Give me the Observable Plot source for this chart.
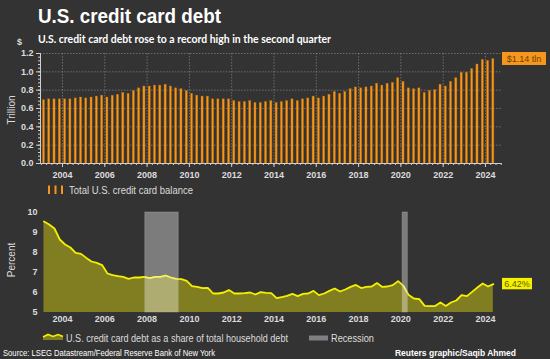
<!DOCTYPE html>
<html><head><meta charset="utf-8">
<script src="https://cdn.jsdelivr.net/npm/d3@7"></script>
<script src="https://cdn.jsdelivr.net/npm/@observablehq/plot@0.6"></script>
<style>
html,body{margin:0;padding:0;background:#333333;}
#wrap{position:relative;width:550px;height:359px;overflow:hidden;background:#333333;}
#wrap > svg{position:absolute;left:0;}
</style></head><body><div id="wrap"></div>
<script>
// ---------- DATA ----------
const firstQuarter = "2003-01-01";
const lastQuarter = "2024-04-01";
// Total U.S. credit card balance, trillions of dollars (quarterly, 2003Q1 .. 2024Q2)
const balance = [
  0.69, 0.70, 0.70, 0.70,
  0.70, 0.70, 0.71, 0.72,
  0.71, 0.72, 0.73, 0.74,
  0.72, 0.74, 0.75, 0.77,
  0.76, 0.79, 0.82, 0.84,
  0.84, 0.85, 0.85, 0.86,
  0.84, 0.82, 0.81, 0.79,
  0.76, 0.74, 0.73, 0.73,
  0.70, 0.70, 0.70, 0.70,
  0.68, 0.67, 0.67, 0.68,
  0.66, 0.66, 0.67, 0.68,
  0.66, 0.67, 0.68, 0.70,
  0.68, 0.70, 0.71, 0.73,
  0.71, 0.73, 0.75, 0.78,
  0.76, 0.78, 0.81, 0.83,
  0.82, 0.83, 0.84, 0.87,
  0.85, 0.87, 0.88, 0.93,
  0.89, 0.82, 0.81, 0.82,
  0.77, 0.79, 0.80, 0.86,
  0.84, 0.89, 0.93, 0.99,
  0.99, 1.03, 1.08, 1.13,
  1.12, 1.14
];
// Credit card debt as a share of total household debt, percent
const share = [
  9.55, 9.40, 9.20, 8.65,
  8.40, 8.25, 7.98, 7.93,
  7.73, 7.55, 7.48, 7.37,
  6.95, 6.87, 6.82, 6.78,
  6.68, 6.75, 6.75, 6.78,
  6.72, 6.78, 6.78, 6.85,
  6.75, 6.68, 6.67, 6.58,
  6.32, 6.28, 6.22, 6.23,
  5.95, 5.95, 6.00, 6.12,
  5.95, 5.95, 5.97, 6.00,
  5.90, 6.02, 5.98, 5.97,
  5.72, 5.77, 5.83, 5.93,
  5.82, 5.93, 5.95, 6.08,
  5.87, 5.95, 6.08, 6.20,
  6.05, 6.15, 6.28, 6.38,
  6.22, 6.28, 6.30, 6.47,
  6.28, 6.30, 6.37, 6.57,
  6.33, 5.87, 5.70, 5.67,
  5.33, 5.32, 5.32, 5.50,
  5.33, 5.50, 5.60, 5.87,
  5.82, 6.03, 6.25, 6.45,
  6.30, 6.42
];
const recessionStart = ["2007-12-01", "2020-02-01"];
const recessionEnd = ["2009-06-30", "2020-04-30"];
const xTickYears = [2004, 2006, 2008, 2010, 2012, 2014, 2016, 2018, 2020, 2022, 2024];
const topYTicks = [0, 0.2, 0.4, 0.6, 0.8, 1.0, 1.2];
const bottomYTicks = [5, 6, 7, 8, 9, 10];
const balanceLabel = "$1.14 tln";
const shareLabel = "6.42%";
const titleText = "U.S. credit card debt";
const subtitleText = "U.S. credit card debt rose to a record high in the second quarter";
const legendBars = "Total U.S. credit card balance";
const legendLine = "U.S. credit card debt as a share of total household debt";
const legendRec = "Recession";
const sourceText = "Source: LSEG Datastream/Federal Reserve Bank of New York";
const creditText = "Reuters graphic/Saqib Ahmed";

// ---------- BUILD ----------
const quarters = d3.utcMonth.every(3).range(new Date(firstQuarter), d3.utcDay.offset(new Date(lastQuarter), 1));
const rows = quarters.map((q, i) => ({q, mid: d3.utcDay.offset(q, 45), balance: balance[i], share: share[i]}));
const recs = recessionStart.map((s, i) => ({start: new Date(s), end: new Date(recessionEnd[i])}));
const yearDates = xTickYears.map(y => new Date(Date.UTC(y, 0, 1)));
const xDomain = [new Date(Date.UTC(2002, 11, 17)), new Date(Date.UTC(2024, 9, 4))];
const minorX = d3.utcMonth.every(3).range(xDomain[0], xDomain[1]);
const minorY = d3.range(0, 1.2001, 0.04);

const AXIS = "#cfcfcf";
const FONT = "'Liberation Sans', Arial, sans-serif";
const wrap = document.getElementById("wrap");

const TOP_Y = 40;
const topPlot = Plot.plot({
  width: 550, height: 145,
  marginTop: 13, marginBottom: 22, marginLeft: 40, marginRight: 49,
  style: {background: "transparent", color: "#dcdcdc", fontFamily: FONT, fontSize: "9px", fontWeight: "bold"},
  x: {type: "utc", domain: xDomain, label: null},
  y: {domain: [0, 1.2], label: null},
  marks: [
    Plot.gridX(yearDates, {stroke: "#9a9a9a", strokeOpacity: 0.55, strokeDasharray: "1.5,1.5"}),
    Plot.gridY(topYTicks, {stroke: "#9a9a9a", strokeOpacity: 0.55, strokeDasharray: "1.5,1.5"}),
    Plot.rectY(rows, {x: "q", y: "balance", interval: d3.utcMonth.every(3), fill: "#f7961c", stroke: "#b86a00", strokeWidth: 0.4, insetLeft: 1.6, insetRight: 1.6}),
    Plot.ruleY([0], {stroke: AXIS}),
    Plot.ruleX([xDomain[0]], {stroke: AXIS}),
    Plot.axisX(minorX, {tickSize: 2, stroke: AXIS, tickFormat: () => "", label: null}),
    Plot.axisX(yearDates, {tickSize: 4, tickPadding: 4, stroke: AXIS, tickFormat: "%Y", label: null}),
    Plot.axisY(minorY, {tickSize: 2, stroke: AXIS, tickFormat: () => "", label: null}),
    Plot.axisY(topYTicks, {tickSize: 4, tickPadding: 3, stroke: AXIS, tickFormat: ".1f", label: null})
  ]
});
topPlot.style.top = TOP_Y + "px";
wrap.appendChild(topPlot);

const BOT_Y = 195;
const botPlot = Plot.plot({
  width: 550, height: 130,
  marginTop: 17, marginBottom: 13, marginLeft: 40, marginRight: 49,
  style: {background: "transparent", color: "#dcdcdc", fontFamily: FONT, fontSize: "9px", fontWeight: "bold"},
  x: {type: "utc", domain: xDomain, label: null},
  y: {domain: [5, 10], label: null},
  marks: [
    Plot.areaY(rows, {x: "mid", y1: 5, y2: "share", fill: "#807e20"}),
    Plot.lineY(rows, {x: "mid", y: "share", stroke: "#f4f000", strokeWidth: 1.8}),
    Plot.rect(recs, {x1: "start", x2: "end", y1: 5, y2: 10, fill: "#ffffff", fillOpacity: 0.36, stroke: "#bbbbbb", strokeOpacity: 0.35}),
    Plot.axisX(yearDates, {tickSize: 0, tickPadding: 3, tickFormat: "%Y", label: null}),
    Plot.axisY(bottomYTicks, {tickSize: 0, tickPadding: 3, label: null})
  ]
});
botPlot.style.top = BOT_Y + "px";
wrap.appendChild(botPlot);

// ---------- TEXT OVERLAY ----------
const ns = "http://www.w3.org/2000/svg";
const ov = document.createElementNS(ns, "svg");
ov.setAttribute("width", 550); ov.setAttribute("height", 359);
ov.style.top = "0px";
wrap.appendChild(ov);
function el(tag, attrs, text) {
  const e = document.createElementNS(ns, tag);
  for (const k in attrs) e.setAttribute(k, attrs[k]);
  if (text != null) e.textContent = text;
  ov.appendChild(e);
  return e;
}
el("text", {x: 38, y: 23, fill: "#ffffff", "font-family": FONT, "font-weight": "bold", "font-size": 21, textLength: 183, lengthAdjust: "spacingAndGlyphs"}, titleText);
el("text", {x: 38, y: 42.5, fill: "#ffffff", "font-family": "Lato, 'Open Sans', sans-serif", "font-weight": "bold", "font-size": 10.5, textLength: 293, lengthAdjust: "spacingAndGlyphs"}, subtitleText);
el("text", {x: 17, y: 45, fill: "#dcdcdc", "font-family": FONT, "font-weight": "bold", "font-size": 9}, "$");
el("text", {transform: "translate(15,110) rotate(-90)", "text-anchor": "middle", fill: "#dcdcdc", "font-family": FONT, "font-size": 10}, "Trillion");
el("text", {transform: "translate(15,260) rotate(-90)", "text-anchor": "middle", fill: "#dcdcdc", "font-family": FONT, "font-size": 10}, "Percent");

// value labels positioned through the plots' scales
const xs = topPlot.scale("x");
const rightEdge = xs.range[1];
const yTop = TOP_Y + topPlot.scale("y").apply(balance[balance.length - 1]);
el("rect", {x: rightEdge + 1, y: yTop - 6.5, width: 44, height: 13, fill: "#f7961c"});
el("text", {x: rightEdge + 23, y: yTop + 3, "text-anchor": "middle", fill: "#6b4300", "font-family": FONT, "font-size": 9}, balanceLabel);
const yBot = BOT_Y + botPlot.scale("y").apply(share[share.length - 1]);
el("rect", {x: rightEdge + 1, y: yBot - 5.7, width: 30, height: 11.4, fill: "#f4f000"});
el("text", {x: rightEdge + 16, y: yBot + 3, "text-anchor": "middle", fill: "#5f5d00", "font-family": FONT, "font-size": 9}, shareLabel);

// legend 1
[48, 54.5, 61].forEach(x => el("rect", {x: x, y: 185.5, width: 2, height: 8.5, fill: "#f7961c"}));
el("text", {x: 69, y: 194, fill: "#dcdcdc", "font-family": FONT, "font-size": 10, textLength: 124, lengthAdjust: "spacingAndGlyphs"}, legendBars);
// legend 2
el("path", {d: "M43,340 L43,337 L48,334.5 L53,336.5 L58,334.5 L63,336.5 L63,340 Z", fill: "#807e20"});
el("path", {d: "M43,337 L48,334.5 L53,336.5 L58,334.5 L63,336.5", fill: "none", stroke: "#f4f000", "stroke-width": 1.6});
el("text", {x: 66, y: 342, fill: "#dcdcdc", "font-family": FONT, "font-size": 10, textLength: 222, lengthAdjust: "spacingAndGlyphs"}, legendLine);
el("rect", {x: 309, y: 335.5, width: 19, height: 5, fill: "#808080"});
el("text", {x: 331, y: 342, fill: "#dcdcdc", "font-family": FONT, "font-size": 10, textLength: 43, lengthAdjust: "spacingAndGlyphs"}, legendRec);
// footer
el("text", {x: 3, y: 356, fill: "#ffffff", "font-family": FONT, "font-size": 8.5, textLength: 212, lengthAdjust: "spacingAndGlyphs"}, sourceText);
el("text", {x: 516, y: 356, "text-anchor": "end", fill: "#ffffff", "font-family": FONT, "font-weight": "bold", "font-size": 8.5}, creditText);
</script>
</body></html>
